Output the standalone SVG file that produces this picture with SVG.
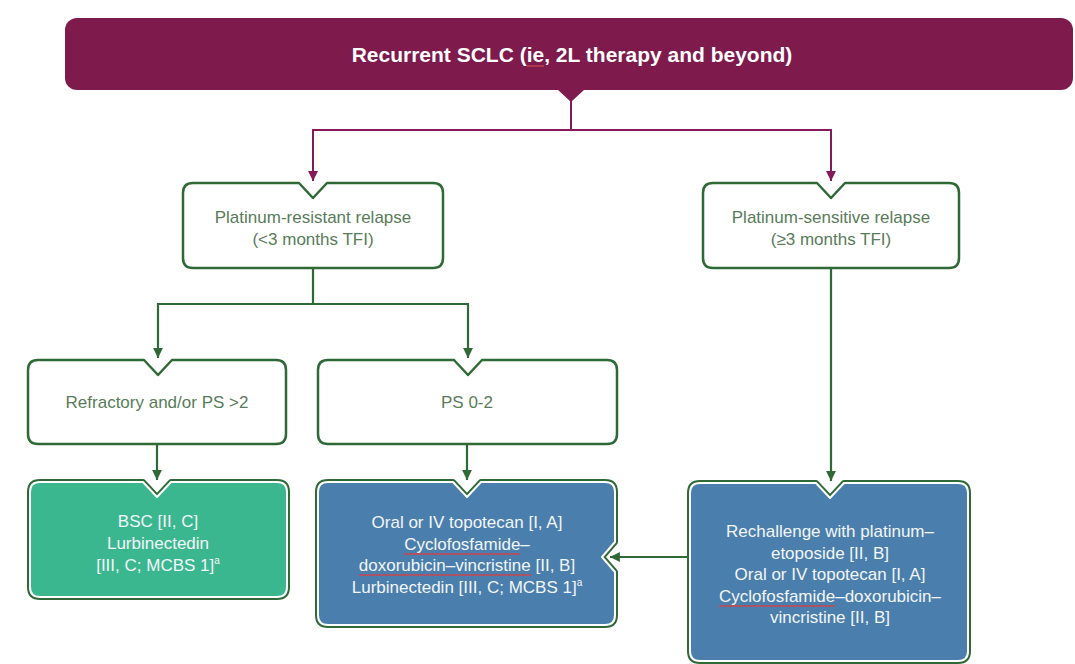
<svg xmlns="http://www.w3.org/2000/svg" width="1075" height="664" viewBox="0 0 1075 664">
<style>
  text { font-family: "Liberation Sans", Arial, sans-serif; text-anchor: middle; }
  .title { font-size: 21px; font-weight: bold; fill: #ffffff; }
  .wt { font-size: 17px; fill: #587c5a; }
  .ct { font-size: 17px; fill: #f2f6f8; }
  .wbox { fill: #ffffff; stroke: #2f6a36; stroke-width: 2.5; stroke-linejoin: round; }
  .outer { fill: none; stroke: #2f6a36; stroke-width: 6; stroke-linejoin: round; }
  .inner-green { fill: #3bb78f; stroke: #ffffff; stroke-width: 2; stroke-linejoin: round; }
  .inner-blue { fill: #4a7eac; stroke: #ffffff; stroke-width: 2; stroke-linejoin: round; }
  .mline { fill: none; stroke: #86195a; stroke-width: 2; }
  .gline { fill: none; stroke: #2f6a36; stroke-width: 2.2; }
  .spell { stroke: #c8464f; stroke-width: 1.3; }
  .sup { font-size: 10px; }
</style>
<defs>
  <marker id="am" viewBox="0 0 10 10" refX="10" refY="5" markerWidth="5" markerHeight="5" orient="auto" markerUnits="strokeWidth">
    <path d="M0,0 L10,5 L0,10 Z" fill="#86195a"/>
  </marker>
  <marker id="ag" viewBox="0 0 10 10" refX="10" refY="5" markerWidth="4.5" markerHeight="4.5" orient="auto" markerUnits="strokeWidth">
    <path d="M0,0 L10,5 L0,10 Z" fill="#2f6a36"/>
  </marker>
  <path id="p-bsc" d="M40,482 H143 L157,497 L171,482 H277 Q287,482 287,492 V587 Q287,597 277,597 H40 Q30,597 30,587 V492 Q30,482 40,482 Z"/>
  <path id="p-ps" d="M328,482 H453 L467,497 L481,482 H605 Q615,482 615,492 V542 L602,557 L615,572 V615 Q615,625 605,625 H328 Q318,625 318,615 V492 Q318,482 328,482 Z"/>
  <path id="p-re" d="M700,483 H816 L830,498 L844,483 H958 Q968,483 968,493 V651 Q968,661 958,661 H700 Q690,661 690,651 V493 Q690,483 700,483 Z"/>
</defs>

<g id="connectors">
  <path class="mline" d="M571,100 V130"/>
  <path class="mline" d="M313,130 H831"/>
  <path class="mline" d="M313,129 V181" marker-end="url(#am)"/>
  <path class="mline" d="M831,129 V181" marker-end="url(#am)"/>
  <path class="gline" d="M313,268 V304"/>
  <path class="gline" d="M157,304 H468"/>
  <path class="gline" d="M158,303 V358" marker-end="url(#ag)"/>
  <path class="gline" d="M468,303 V358" marker-end="url(#ag)"/>
  <path class="gline" d="M157,444 V480" marker-end="url(#ag)"/>
  <path class="gline" d="M467,444 V480" marker-end="url(#ag)"/>
  <path class="gline" d="M831,268 V481" marker-end="url(#ag)"/>
  <path class="gline" d="M690,557 H610" marker-end="url(#ag)"/>
</g>

<g id="node-recurrent">
  <rect x="65" y="18" width="1008" height="72" rx="12" fill="#7e1a4c"/>
  <path d="M557,89 L585,89 L571,102 Z" fill="#7e1a4c"/>
  <text class="title" x="572" y="62">Recurrent SCLC (ie, 2L therapy and beyond)</text>
  <line class="spell" x1="527" y1="66" x2="544" y2="66"/>
</g>

<g id="node-resistant">
  <path class="wbox" d="M193,183 H299 L313,198 L327,183 H433 Q443,183 443,193 V258 Q443,268 433,268 H193 Q183,268 183,258 V193 Q183,183 193,183 Z"/>
  <text class="wt" x="313" y="223">Platinum-resistant relapse</text>
  <text class="wt" x="313" y="245">(&lt;3 months TFI)</text>
</g>

<g id="node-sensitive">
  <path class="wbox" d="M713,183 H817 L831,198 L845,183 H949 Q959,183 959,193 V258 Q959,268 949,268 H713 Q703,268 703,258 V193 Q703,183 713,183 Z"/>
  <text class="wt" x="831" y="223">Platinum-sensitive relapse</text>
  <text class="wt" x="831" y="245">(≥3 months TFI)</text>
</g>

<g id="node-refractory">
  <path class="wbox" d="M38,360 H144 L158,375 L172,360 H276 Q286,360 286,370 V434 Q286,444 276,444 H38 Q28,444 28,434 V370 Q28,360 38,360 Z"/>
  <text class="wt" x="157" y="408">Refractory and/or PS &gt;2</text>
</g>

<g id="node-ps02">
  <path class="wbox" d="M328,360 H454 L468,375 L482,360 H607 Q617,360 617,370 V434 Q617,444 607,444 H328 Q318,444 318,434 V370 Q318,360 328,360 Z"/>
  <text class="wt" x="467" y="408">PS 0-2</text>
</g>

<g id="node-bsc">
  <use href="#p-bsc" class="outer"/>
  <use href="#p-bsc" class="inner-green"/>
  <text class="ct" x="158" y="527">BSC [II, C]</text>
  <text class="ct" x="158" y="549">Lurbinectedin</text>
  <text class="ct" x="158" y="571">[III, C; MCBS 1]<tspan class="sup" dy="-7">a</tspan></text>
</g>

<g id="node-ps-treatment">
  <use href="#p-ps" class="outer"/>
  <use href="#p-ps" class="inner-blue"/>
  <text class="ct" x="467" y="528">Oral or IV topotecan [I, A]</text>
  <text class="ct" x="467" y="550">Cyclofosfamide–</text>
  <text class="ct" x="467" y="571">doxorubicin–vincristine [II, B]</text>
  <text class="ct" x="467" y="593">Lurbinectedin [III, C; MCBS 1]<tspan class="sup" dy="-7">a</tspan></text>
  <line class="spell" x1="404" y1="554" x2="520" y2="554"/>
  <line class="spell" x1="359" y1="575" x2="531" y2="575"/>
</g>

<g id="node-rechallenge">
  <use href="#p-re" class="outer"/>
  <use href="#p-re" class="inner-blue"/>
  <text class="ct" x="830" y="537">Rechallenge with platinum–</text>
  <text class="ct" x="830" y="559">etoposide [II, B]</text>
  <text class="ct" x="830" y="580">Oral or IV topotecan [I, A]</text>
  <text class="ct" x="830" y="602">Cyclofosfamide–doxorubicin–</text>
  <text class="ct" x="830" y="623">vincristine [II, B]</text>
  <line class="spell" x1="719" y1="606" x2="835" y2="606"/>
</g>
</svg>
